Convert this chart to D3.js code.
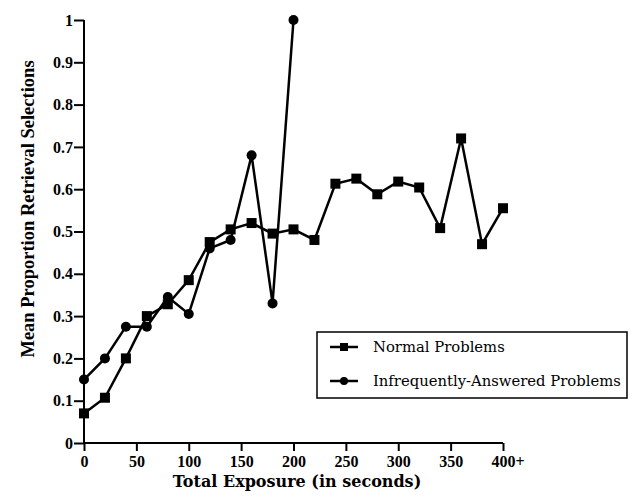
<!DOCTYPE html>
<html><head><meta charset="utf-8">
<script src="https://cdn.jsdelivr.net/npm/d3@7"></script>
<style>
body{margin:0;background:#fff;}
svg text{font-family:"Liberation Serif","DejaVu Serif",serif;font-weight:bold;fill:#000;}
</style></head>
<body><svg id="c" width="644" height="499"></svg>
<script>
const normalX = [0,20,40,60,80,100,120,140,160,180,200,220,240,260,280,300,320,340,360,380,400];
const normalY = [0.07,0.107,0.20,0.30,0.328,0.385,0.475,0.505,0.52,0.495,0.505,0.48,0.613,0.625,0.588,0.618,0.604,0.508,0.72,0.47,0.555];
const infreqX = [0,20,40,60,80,100,120,140,160,180,200];
const infreqY = [0.15,0.20,0.275,0.275,0.345,0.305,0.46,0.48,0.68,0.33,1.0];
const xTicks = [0,50,100,150,200,250,300,350,400];
const yTicks = [0,0.1,0.2,0.3,0.4,0.5,0.6,0.7,0.8,0.9,1];
const seriesNames = ["Normal Problems","Infrequently-Answered Problems"];

const svg = d3.select("#c");
const x = d3.scaleLinear().domain([0,400]).range([84,503]);
const y = d3.scaleLinear().domain([0,1]).range([443,20]);

// axes
const xa = svg.append("g").attr("transform","translate(0,443)")
  .call(d3.axisBottom(x).tickValues(xTicks).tickSize(8).tickPadding(5).tickFormat(d=> d===400?"400+":d));
const ya = svg.append("g").attr("transform","translate(84,0)")
  .call(d3.axisLeft(y).tickValues(yTicks).tickSize(10).tickPadding(1).tickFormat(d=> d===0?"0":d===1?"1":d3.format(".1f")(d)));
[xa,ya].forEach(g=>{
  g.attr("font-size",null).attr("font-family",null);
  g.select(".domain").attr("stroke","#000").attr("stroke-width",2);
  g.selectAll(".tick line").attr("stroke","#000").attr("stroke-width",2);
  g.selectAll(".tick text").style("font-size","16px");
});
xa.selectAll(".tick text").filter(d=>d===400).attr("text-anchor","start").attr("x",-12);
ya.select(".domain").attr("d","M0,443V20");
xa.select(".domain").attr("d","M84,0H503");

// lines
const line = d3.line().x(d=>x(d[0])).y(d=>y(d[1]));
const nData = normalX.map((v,i)=>[v,normalY[i]]);
const iData = infreqX.map((v,i)=>[v,infreqY[i]]);
svg.append("path").datum(nData).attr("d",line).attr("fill","none").attr("stroke","#000").attr("stroke-width",2.5);
svg.append("path").datum(iData).attr("d",line).attr("fill","none").attr("stroke","#000").attr("stroke-width",2.5);
svg.selectAll(".sq").data(nData).enter().append("rect")
  .attr("x",d=>x(d[0])-5).attr("y",d=>y(d[1])-5).attr("width",10).attr("height",10).attr("fill","#000");
svg.selectAll(".ci").data(iData).enter().append("circle")
  .attr("cx",d=>x(d[0])).attr("cy",d=>y(d[1])).attr("r",5).attr("fill","#000");

// legend
const lg = svg.append("g");
lg.append("rect").attr("x",317).attr("y",332).attr("width",310).attr("height",66)
  .attr("fill","#fff").attr("stroke","#000").attr("stroke-width",1.5);
[0,1].forEach(i=>{
  const yy = 347 + i*34;
  lg.append("line").attr("x1",330).attr("x2",358).attr("y1",yy).attr("y2",yy).attr("stroke","#000").attr("stroke-width",2.5);
  if(i===0) lg.append("rect").attr("x",340).attr("y",yy-4).attr("width",8).attr("height",8).attr("fill","#000");
  else lg.append("circle").attr("cx",344).attr("cy",yy).attr("r",4).attr("fill","#000");
  lg.append("text").attr("x",373).attr("y",yy+5).style("font-family","'DejaVu Serif',serif").style("font-size","14.8px").style("font-weight","normal").text(seriesNames[i]);
});

// titles
svg.append("text").attr("x",297).attr("y",487).attr("text-anchor","middle").style("font-family","'DejaVu Serif',serif").style("font-size","16px").text("Total Exposure (in seconds)");
svg.append("text").attr("transform","translate(34,209) rotate(-90)").attr("text-anchor","middle").style("font-size","18.5px").text("Mean Proportion Retrieval Selections");
</script></body></html>
